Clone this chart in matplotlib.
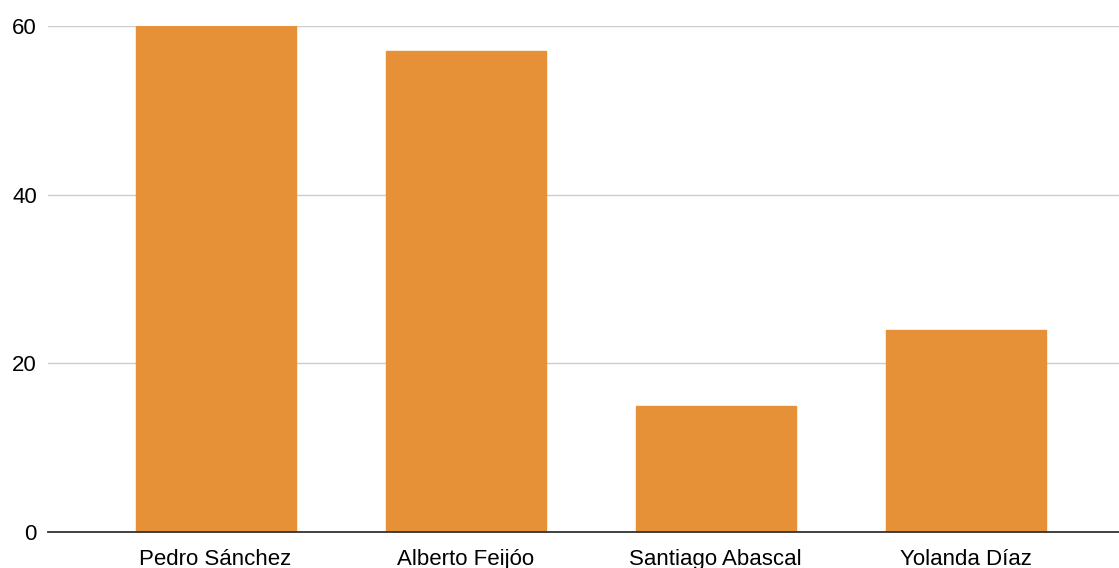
import numpy as np
import matplotlib as mpl
import matplotlib.pyplot as plt

names = ["Pedro Sánchez", "Alberto Feijóo", "Santiago Abascal", "Yolanda Díaz"]
values = [60, 57, 15, 24]
yticks = [0, 20, 40, 60]

mpl.rcParams['font.family'] = ['Liberation Sans', 'DejaVu Sans']

fig = plt.figure(figsize=(11.19, 5.68), dpi=100)
ax = fig.add_axes([48 / 1119, 36 / 568, 1071 / 1119, 506 / 568])

locs = np.arange(len(names))
ax.bar(locs, values, width=0.64, color="#e69138", edgecolor="#e69138",
       linewidth=1.0, joinstyle="round", zorder=3)

ax.set_xlim(-0.67, -0.67 + 1071 / 250)
ax.set_ylim(0, 60)
ax.set_yticks(yticks)
ax.set_xticks(locs)
ax.set_xticklabels(names)

ax.grid(axis="y", color="#cccccc", linewidth=1.0, zorder=0)
ax.set_axisbelow(True)
for side in ["top", "right", "left"]:
    ax.spines[side].set_visible(False)
ax.spines["bottom"].set_color("#333333")
ax.spines["bottom"].set_linewidth(1.3)
ax.spines["bottom"].set_zorder(4)

ax.tick_params(axis="both", length=0, labelsize=16, colors="#000000")
ax.tick_params(axis="y", pad=8)
ax.tick_params(axis="x", pad=12)

fig.savefig("out.png", dpi=100)
